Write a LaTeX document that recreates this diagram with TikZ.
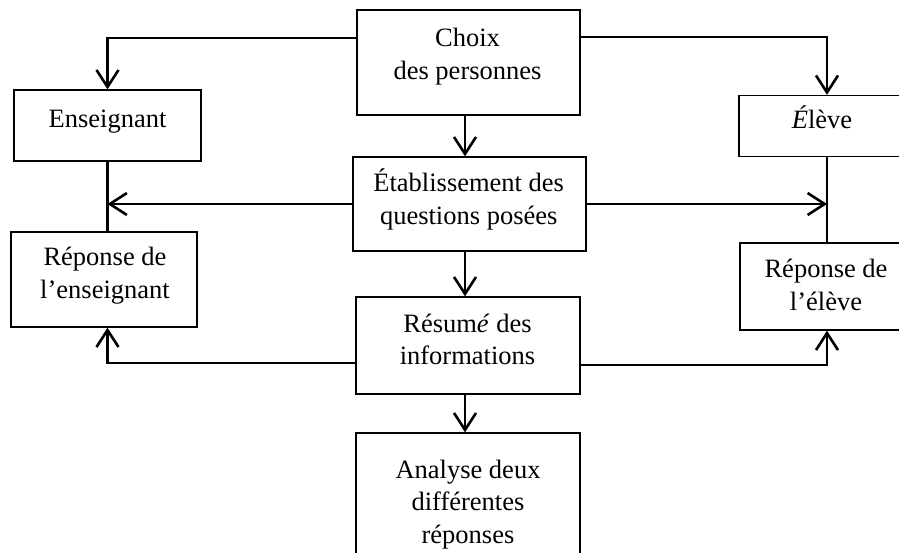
\documentclass[tikz,border=0pt]{standalone}
\usepackage{fontspec}
\setmainfont{Liberation Serif}
\usetikzlibrary{arrows.meta}

\begin{document}
\begin{tikzpicture}[x=1pt,y=-1pt,
  box/.style={draw, line width=1.3pt, rectangle, inner sep=0pt},
  txt/.style={anchor=base, align=center, inner sep=0pt,
    font=\fontsize{26.5}{32.5}\selectfont},
  link/.style={line width=2.8pt},
  flow/.style={link, -{Straight Barb[length=17pt,width=22pt,line width=2.6pt]}}]

\useasboundingbox (0,0) rectangle (899,552);

% boxes
\node[box, minimum width=223pt, minimum height=105pt] (choix)   at (468.5,62.5) {};
\node[box, minimum width=233pt, minimum height=94pt]  (etab)    at (469.5,204)  {};
\node[box, minimum width=224pt, minimum height=97pt]  (resume)  at (468,345.5)  {};
\node[box, minimum width=224pt, minimum height=137pt] (analyse) at (468,501.5)  {};
\node[box, minimum width=187pt, minimum height=71pt]  (ens)     at (107.5,125.5) {};
\node[box, minimum width=186pt, minimum height=95pt]  (rens)    at (104,279.5)  {};
\node[box, minimum width=176pt, minimum height=61pt]  (eleve)   at (827,126)    {};
\node[box, minimum width=174pt, minimum height=87pt]  (releve)  at (827,286.5)  {};

% texts (anchored at the baseline of their last line)
\node[txt] (choix-t)   at (467.5,79)  {Choix\\des personnes};
\node[txt] (etab-t)    at (468.7,224) {Établissement des\\questions posées};
\node[txt] (resume-t)  at (467.5,364.5) {Résum\textit{é} des\\informations};
\node[txt] (analyse-t) at (468,543)   {Analyse deux\\différentes\\réponses};
\node[txt] (ens-t)     at (107.5,127) {Enseignant};
\node[txt] (rens-t)    at (105,298)   {Réponse de\\l’enseignant};
\node[txt] (eleve-t)   at (822,128)   {\textit{É}lève};
\node[txt] (releve-t)  at (826,310)   {Réponse de\\l’élève};

% connectors
\draw[flow] ([yshift=24.5pt]choix.west) -| (ens.north);
\draw[flow] ([yshift=25.5pt]choix.east) -| (eleve.north);
\draw[flow] (choix.south -| 465,0) -- (etab.north -| 465,0);
\draw[flow] (etab.west) -- (etab.west -| ens.south);
\draw[flow] (etab.east) -- (etab.east -| eleve.south);
\draw[link] (ens.south) -- (ens.south |- rens.north);
\draw[link] (eleve.south) -- (eleve.south |- releve.north);
\draw[flow] (etab.south -| 465,0) -- (resume.north -| 465,0);
\draw[flow] ([yshift=-17.5pt]resume.west) -| (ens.south |- rens.south);
\draw[flow] ([yshift=-19.5pt]resume.east) -| (releve.south);
\draw[flow] (resume.south -| 465,0) -- (analyse.north -| 465,0);

\end{tikzpicture}
\end{document}
